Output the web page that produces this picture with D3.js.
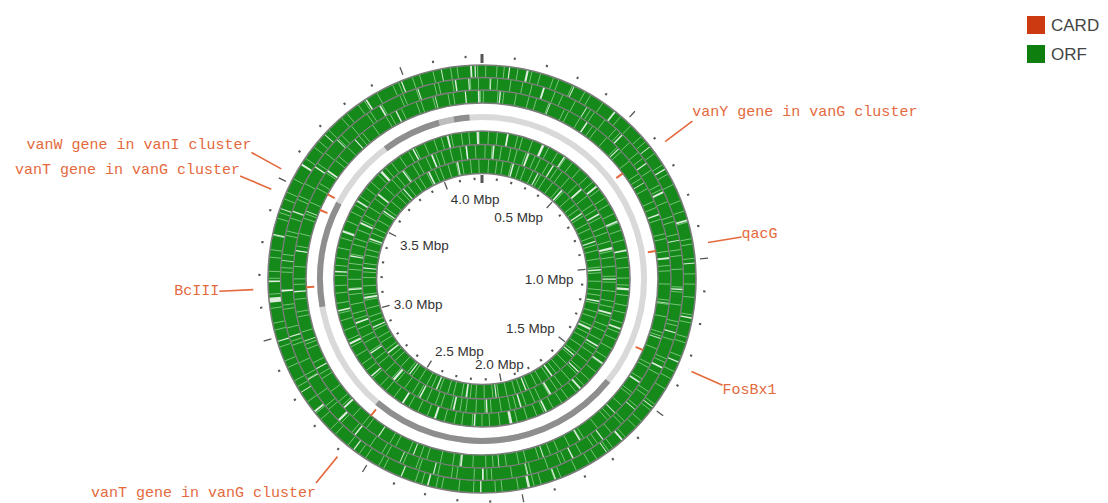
<!DOCTYPE html>
<html>
<head>
<meta charset="utf-8">
<script src="https://cdn.jsdelivr.net/npm/d3@7"></script>
<style>
  body { margin: 0; background: #fff; }
</style>
</head>
<body>
<div id="map"></div>
<script>
// genome length and ruler, in kbp
const genomeLength = 4250;
const tickStep = 100;
const labelTicks = [500, 1000, 1500, 2000, 2500, 3000, 3500, 4000];

// CARD hits (kbp) and their names
const cardHits = [627, 954, 1344, 2587, 3156, 3460, 3527];
const cardNames = [
  "vanY gene in vanG cluster", "qacG", "FosBx1", "vanT gene in vanG cluster",
  "BcIII", "vanT gene in vanG cluster", "vanW gene in vanI cluster"
];

// grey backbone track: darker and mid-grey stretches (kbp)
const greyDark = [[1523, 2601], [3071, 3517], [3819, 4069], [4132, 4198]];
const greyMid = [[4069, 4132]];

// ORF tracks, outermost first
// edges: ORF boundaries (kbp), seen as pale lines
const orf1Edges = [12,48,71,115,160,188,231,249,296,340,361,407,452,478,521,569,590,637,681,715,752,808,843,880,934,951,997,1046,1079,1121,1177,1203,1250,1268,1313,1366,1391,1428,1487,1510,1556,1581,1627,1679,1695,1741,1768,1815,1869,1890,1935,1958,2009,2061,2082,2127,2152,2199,2254,2272,2319,2340,2387,2449,2467,2515,2539,2584,2637,2659,2703,2728,2773,2830,2851,2898,2921,2968,3024,3046,3094,3139,3190,3212,3257,3281,3327,3383,3402,3448,3471,3518,3571,3593,3638,3662,3709,3765,3787,3832,3855,3902,3958,3978,4025,4049,4093,4150,4171,4236];
const orf2Edges = [27,53,98,139,171,214,252,280,327,386,401,445,493,512,558,602,627,676,733,749,795,847,866,910,963,983,1029,1090,1107,1151,1208,1222,1272,1339,1352,1397,1465,1481,1528,1593,1607,1652,1711,1728,1776,1836,1852,1898,1958,1972,2023,2092,2108,2152,2211,2229,2275,2341,2352,2398,2461,2478,2524,2587,2601,2649,2711,2726,2772,2836,2851,2897,2960,2974,3021,3085,3099,3147,3211,3226,3271,3336,3351,3396,3463,3476,3522,3587,3602,3646,3711,3727,3772,3838,3852,3897,3965,3977,4024,4088,4102,4150,4210,4238];
const orf3Edges = [5,58,79,124,171,199,246,306,323,370,424,442,489,540,561,606,662,681,724,775,799,844,898,916,962,1014,1033,1081,1139,1154,1200,1258,1271,1320,1379,1393,1440,1500,1512,1560,1618,1633,1679,1740,1752,1799,1843,1873,1918,1965,1992,2037,2085,2111,2158,2206,2231,2276,2326,2351,2396,2447,2471,2517,2571,2590,2636,2690,2709,2755,2811,2829,2876,2930,2948,2994,3050,3068,3114,3168,3188,3233,3290,3307,3353,3410,3427,3472,3528,3547,3592,3648,3667,3712,3770,3786,3832,3889,3906,3951,4009,4026,4071,4127,4146,4190,4244];
const orf4Edges = [30,71,118,166,189,237,290,318,365,409,447,493,541,576,622,668,703,751,797,834,880,927,962,1009,1058,1091,1139,1186,1221,1268,1315,1350,1396,1444,1480,1526,1573,1608,1655,1703,1738,1784,1831,1867,1913,1961,1996,2042,2090,2125,2171,2219,2254,2300,2348,2383,2430,2477,2512,2558,2606,2641,2688,2735,2770,2816,2864,2899,2946,2993,3028,3075,3122,3157,3204,3251,3286,3333,3380,3415,3462,3509,3544,3591,3638,3673,3720,3767,3802,3849,3896,3931,3978,4025,4060,4107,4154,4189,4236];
const orf5Edges = [16,52,99,147,180,227,276,306,352,405,434,481,533,563,610,662,692,739,790,821,868,919,950,997,1048,1079,1126,1177,1207,1255,1306,1336,1383,1434,1465,1512,1563,1594,1641,1692,1722,1770,1821,1851,1898,1950,1980,2027,2078,2109,2156,2207,2237,2285,2336,2366,2413,2464,2495,2542,2593,2624,2671,2722,2752,2800,2851,2881,2928,2980,3010,3057,3108,3139,3186,3237,3267,3315,3366,3396,3443,3494,3525,3572,3623,3654,3701,3752,3782,3830,3881,3911,3958,4010,4040,4087,4138,4169,4216];
const orf6Edges = [38,85,120,169,216,250,299,347,379,428,476,509,558,606,638,687,735,768,817,865,897,946,994,1027,1076,1124,1156,1205,1253,1286,1335,1383,1415,1464,1512,1545,1594,1642,1674,1723,1771,1804,1853,1901,1933,1982,2030,2063,2112,2160,2192,2241,2289,2322,2371,2419,2451,2500,2548,2581,2630,2678,2710,2759,2807,2840,2889,2937,2969,3018,3066,3099,3148,3196,3228,3277,3325,3358,3407,3455,3487,3536,3584,3617,3666,3714,3746,3795,3843,3876,3925,3973,4005,4054,4102,4135,4184,4232];

// gaps: [position, width] in kbp where the ring shows white
const orf1Gaps = [[4215,6],[4228,4],[88,4],[146,7],[302,3],[455,5],[611,3],[697,4],[874,6],[1012,3],[1187,5],[1333,4],[1498,3],[1640,6],[1703,3],[1887,4],[1975,8],[2130,3],[2299,5],[2388,3],[2561,4],[2735,6],[2809,3],[2987,4],[3120,16],[3180,5],[3330,4],[3415,3],[3570,6],[3690,3],[3862,5],[3988,4],[4120,3]];
const orf2Gaps = [[4160,5],[4205,4],[30,3],[212,6],[371,3],[522,5],[648,4],[760,7],[931,3],[1098,5],[1246,4],[1372,6],[1540,3],[1688,4],[1807,5],[1969,3],[2122,6],[2290,4],[2410,3],[2588,5],[2661,8],[2833,3],[2990,4],[3148,6],[3250,3],[3420,5],[3588,4],[3705,3],[3890,6],[4030,4]];
const orf3Gaps = [[4190,4],[4238,6],[66,5],[251,3],[400,6],[548,4],[700,3],[826,5],[987,7],[1150,3],[1280,4],[1455,6],[1596,3],[1756,5],[1900,4],[2064,3],[2201,6],[2377,4],[2519,3],[2680,7],[2852,4],[2960,3],[3142,5],[3290,4],[3437,3],[3601,6],[3750,4],[3930,5],[4080,3]];
const orf4Gaps = [[4230,10],[120,8],[290,12],[402,7],[603,9],[790,8],[930,7],[1110,11],[1296,8],[1475,7],[1630,9],[1820,8],[1990,12],[2160,7],[2345,9],[2510,8],[2700,7],[2880,10],[3040,8],[3222,7],[3410,9],[3566,8],[3740,12],[3920,7],[4090,9]];
const orf5Gaps = [[60,8],[240,10],[380,7],[566,9],[720,8],[905,12],[1063,7],[1240,9],[1418,8],[1580,7],[1762,10],[1925,8],[2100,7],[2270,9],[2452,8],[2612,12],[2790,7],[2960,9],[3133,8],[3305,7],[3480,10],[3650,8],[3822,7],[3990,9],[4170,8]];
const orf6Gaps = [[180,9],[330,7],[497,10],[670,8],[845,7],[1010,9],[1190,8],[1355,12],[1530,7],[1702,9],[1870,8],[2044,7],[2214,10],[2390,8],[2565,7],[2737,9],[2905,8],[3080,12],[3250,7],[3420,9],[3596,8],[3765,7],[3938,10],[4110,8]];

const legendLabels = ["CARD", "ORF"];

// ---- layout ----
const W = 1108, H = 503;
const cx = 482, cy = 279;
const bands = [[201.5, 214], [189, 201.5], [176, 189], [134.5, 148], [120, 134.5], [105.5, 120]];
const orfEdges = [orf1Edges, orf2Edges, orf3Edges, orf4Edges, orf5Edges, orf6Edges];
const orfGaps = [orf1Gaps, orf2Gaps, orf3Gaps, orf4Gaps, orf5Gaps, orf6Gaps];

const green = "#15891a";
const paleGreen = "#97d597";
const cardColor = "#e4693d";
const legendColors = ["#cc3a12", "#0e7f0e"];

const svg = d3.select("#map").append("svg")
  .attr("width", W)
  .attr("height", H)
  .style("font-family", "'Liberation Sans', Arial, sans-serif");

const g = svg.append("g").attr("transform", `translate(${cx},${cy})`);

const angle = d3.scaleLinear().domain([0, genomeLength]).range([0, 2 * Math.PI]);
const arc = d3.arc();
const polar = (r, a) => [r * Math.sin(a), -r * Math.cos(a)];

// ORF rings
bands.forEach(([r0, r1], i) => {
  g.append("path")
    .attr("d", arc({ innerRadius: r0, outerRadius: r1, startAngle: 0, endAngle: 2 * Math.PI }))
    .attr("fill", green);

  g.selectAll(null)
    .data(orfEdges[i])
    .enter()
    .append("line")
    .attr("x1", d => polar(r0 + 0.5, angle(d))[0])
    .attr("y1", d => polar(r0 + 0.5, angle(d))[1])
    .attr("x2", d => polar(r1 - 0.5, angle(d))[0])
    .attr("y2", d => polar(r1 - 0.5, angle(d))[1])
    .attr("stroke", paleGreen)
    .attr("stroke-width", 0.9)
    .attr("opacity", 0.85);

  g.selectAll(null)
    .data(orfGaps[i])
    .enter()
    .append("path")
    .attr("d", d => arc({
      innerRadius: r0, outerRadius: r1,
      startAngle: angle(d[0] - d[1] / 2), endAngle: angle(d[0] + d[1] / 2)
    }))
    .attr("fill", "#fff")
    .attr("opacity", 0.85);
});

// ring outlines
const edges = [214, 201.5, 189, 176, 148, 134.5, 120, 105.5];
g.selectAll(".edge")
  .data(edges)
  .enter()
  .append("circle")
  .attr("class", "edge")
  .attr("r", d => d)
  .attr("fill", "none")
  .attr("stroke", "#7c7c7c")
  .attr("stroke-width", (d, i) => (i === 0 || i === 3 || i === 4 || i === 7) ? 1.6 : 1.3);

// grey backbone
g.append("path")
  .attr("d", arc({ innerRadius: 159, outerRadius: 165, startAngle: 0, endAngle: 2 * Math.PI }))
  .attr("fill", "#d9d9d9");
g.selectAll(null)
  .data(greyMid)
  .enter()
  .append("path")
  .attr("d", d => arc({ innerRadius: 159, outerRadius: 165, startAngle: angle(d[0]), endAngle: angle(d[1]) }))
  .attr("fill", "#bdbdbd");
g.selectAll(null)
  .data(greyDark)
  .enter()
  .append("path")
  .attr("d", d => arc({ innerRadius: 159, outerRadius: 165, startAngle: angle(d[0]), endAngle: angle(d[1]) }))
  .attr("fill", "#8e8e8e");

// CARD hits
g.selectAll(".hit")
  .data(cardHits)
  .enter()
  .append("line")
  .attr("class", "hit")
  .attr("x1", d => polar(168, angle(d))[0])
  .attr("y1", d => polar(168, angle(d))[1])
  .attr("x2", d => polar(176, angle(d))[0])
  .attr("y2", d => polar(176, angle(d))[1])
  .attr("stroke", cardColor)
  .attr("stroke-width", 2);

// leaders and names
const leaders = g.selectAll(".leader")
  .data(cardHits)
  .enter()
  .append("g")
  .attr("class", "leader");

leaders.append("line")
  .attr("x1", d => polar(229, angle(d))[0])
  .attr("y1", d => polar(229, angle(d))[1])
  .attr("x2", d => polar(263, angle(d))[0])
  .attr("y2", d => polar(263, angle(d))[1])
  .attr("stroke", cardColor)
  .attr("stroke-width", 1.6);

leaders.append("text")
  .attr("x", d => polar(263, angle(d))[0])
  .attr("y", d => polar(263, angle(d))[1] - Math.cos(angle(d)) * 14)
  .attr("text-anchor", d => Math.sin(angle(d)) >= 0 ? "start" : "end")
  .attr("dominant-baseline", "central")
  .style("font-family", "'Liberation Mono', 'DejaVu Sans Mono', monospace")
  .style("font-size", "15px")
  .attr("fill", cardColor)
  .text((d, i) => cardNames[i]);

// outer ruler
const ticks = d3.range(0, genomeLength, tickStep);
const tickStyle = d => d === 0 ? [216, 225, 3] : (d % 500 === 0 ? [219, 227, 1.3] : [221.5, 223.8, 2]);
g.selectAll(".otick")
  .data(ticks)
  .enter()
  .append("line")
  .attr("class", "otick")
  .attr("x1", d => polar(tickStyle(d)[0], angle(d))[0])
  .attr("y1", d => polar(tickStyle(d)[0], angle(d))[1])
  .attr("x2", d => polar(tickStyle(d)[1], angle(d))[0])
  .attr("y2", d => polar(tickStyle(d)[1], angle(d))[1])
  .attr("stroke", "#555")
  .attr("stroke-width", d => tickStyle(d)[2]);

// inner ruler
const innerStyle = d => d === 0 ? [96, 104, 3] : (d % 500 === 0 ? [96, 104, 1.3] : [99.2, 101.5, 2]);
g.selectAll(".itick")
  .data(ticks)
  .enter()
  .append("line")
  .attr("class", "itick")
  .attr("x1", d => polar(innerStyle(d)[0], angle(d))[0])
  .attr("y1", d => polar(innerStyle(d)[0], angle(d))[1])
  .attr("x2", d => polar(innerStyle(d)[1], angle(d))[0])
  .attr("y2", d => polar(innerStyle(d)[1], angle(d))[1])
  .attr("stroke", "#555")
  .attr("stroke-width", d => innerStyle(d)[2]);

// ruler labels: the box corner (or side) facing the tick sits just inside it
const labelFont = 13.5;
g.selectAll(".rlabel")
  .data(labelTicks)
  .enter()
  .append("text")
  .attr("class", "rlabel")
  .style("font-size", labelFont + "px")
  .attr("fill", "#333")
  .attr("dominant-baseline", "central")
  .text(d => (d / 1000).toFixed(1) + " Mbp")
  .each(function (d) {
    const a = angle(d);
    const s = Math.sin(a), c = Math.cos(a);
    const p = polar(95, a);
    const anchor = s > 0.3 ? "end" : (s < -0.3 ? "start" : "middle");
    const x = anchor === "end" ? p[0] - 3 : (anchor === "start" ? p[0] + 3 : p[0]);
    const y = c > 0.05 ? p[1] + 9 : (c < -0.3 ? p[1] - 8 : p[1]);
    d3.select(this).attr("text-anchor", anchor).attr("x", x).attr("y", y);
  });

// legend
const legend = svg.append("g").attr("transform", "translate(1027,16)");
legendLabels.forEach((name, i) => {
  legend.append("rect")
    .attr("x", 0)
    .attr("y", i * 29)
    .attr("width", 18)
    .attr("height", 18)
    .attr("fill", legendColors[i]);
  legend.append("text")
    .attr("x", 24)
    .attr("y", i * 29 + 9)
    .attr("dominant-baseline", "central")
    .style("font-size", "17px")
    .attr("fill", "#444")
    .text(name);
});
</script>
</body>
</html>
